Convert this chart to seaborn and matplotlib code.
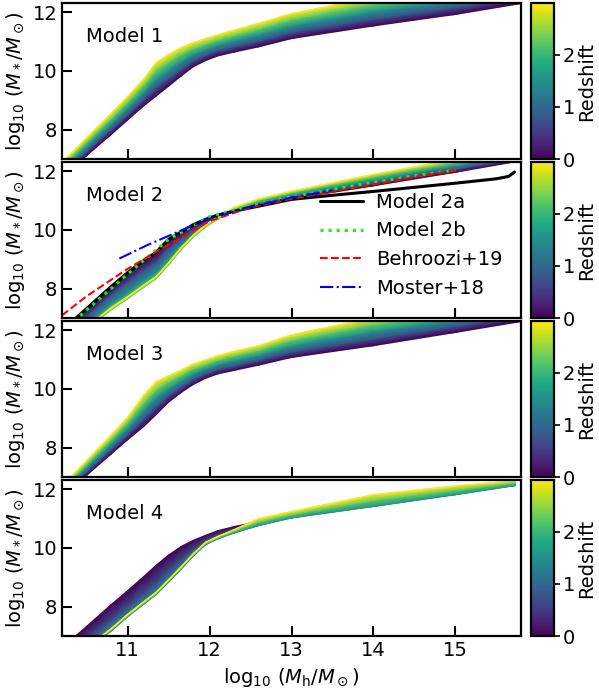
import numpy as np
import matplotlib
matplotlib.use("Agg")
import matplotlib.pyplot as plt
import seaborn as sns

# ==========================================
# Data
# ==========================================
# halo mass grid, log10(Mh/Msun)
log_mh = [10.2, 10.5, 10.8, 11.0, 11.2, 11.35, 11.5, 11.65, 11.8, 11.95, 12.1, 12.3, 12.6, 13.0, 14.0, 15.0, 15.8]
log_mh_m4 = [10.2, 10.5, 10.8, 11.0, 11.2, 11.35, 11.5, 11.65, 11.8, 11.95, 12.1, 12.3, 12.6, 13.0, 14.0, 15.0, 15.73]
redshifts = [0.0, 0.75, 1.5, 2.25, 2.98]

# Model 1: log10(M*/Msun) per redshift
model1_z0 = [6.38, 7.12, 7.84, 8.33, 8.82, 9.15, 9.48, 9.82, 10.14, 10.35, 10.51, 10.64, 10.82, 11.10, 11.53, 11.92, 12.29]
model1_z075 = [6.51, 7.27, 8.02, 8.53, 9.05, 9.44, 9.75, 10.06, 10.35, 10.54, 10.69, 10.83, 11.02, 11.31, 11.77, 12.15, 12.50]
model1_z15 = [6.64, 7.43, 8.20, 8.73, 9.28, 9.72, 10.02, 10.31, 10.55, 10.73, 10.87, 11.02, 11.22, 11.53, 12.02, 12.39, 12.72]
model1_z225 = [6.76, 7.58, 8.38, 8.93, 9.51, 10.01, 10.29, 10.55, 10.76, 10.91, 11.05, 11.20, 11.42, 11.74, 12.26, 12.62, 12.94]
model1_z3 = [6.89, 7.73, 8.56, 9.13, 9.74, 10.29, 10.56, 10.79, 10.96, 11.10, 11.23, 11.39, 11.62, 11.95, 12.50, 12.85, 13.15]

# Model 2
model2_z0 = [6.53, 7.28, 8.03, 8.50, 8.92, 9.20, 9.63, 9.88, 10.13, 10.32, 10.48, 10.62, 10.81, 11.05, 11.50, 11.96, 12.35]
model2_z075 = [6.33, 7.05, 7.77, 8.21, 8.62, 8.90, 9.34, 9.68, 10.00, 10.24, 10.44, 10.64, 10.87, 11.12, 11.60, 12.07, 12.45]
model2_z15 = [6.10, 6.79, 7.48, 7.87, 8.28, 8.56, 9.02, 9.46, 9.85, 10.16, 10.40, 10.65, 10.93, 11.19, 11.70, 12.18, 12.55]
model2_z225 = [5.95, 6.62, 7.29, 7.66, 8.06, 8.35, 8.81, 9.32, 9.75, 10.10, 10.37, 10.70, 11.00, 11.26, 11.80, 12.29, 12.65]
model2_z3 = [6.02, 6.69, 7.36, 7.73, 8.13, 8.42, 8.88, 9.39, 9.82, 10.17, 10.44, 10.77, 11.06, 11.32, 11.89, 12.40, 12.75]

# Model 3
model3_z0 = [6.35, 7.06, 7.79, 8.27, 8.73, 9.13, 9.55, 9.87, 10.15, 10.36, 10.51, 10.63, 10.81, 11.07, 11.47, 11.92, 12.29]
model3_z075 = [6.44, 7.19, 7.95, 8.46, 9.00, 9.41, 9.78, 10.06, 10.33, 10.52, 10.67, 10.79, 10.98, 11.26, 11.71, 12.13, 12.48]
model3_z15 = [6.53, 7.32, 8.12, 8.66, 9.27, 9.69, 10.00, 10.26, 10.50, 10.68, 10.82, 10.96, 11.14, 11.46, 11.95, 12.34, 12.67]
model3_z225 = [6.62, 7.44, 8.28, 8.85, 9.53, 9.97, 10.23, 10.45, 10.68, 10.83, 10.98, 11.12, 11.31, 11.65, 12.18, 12.54, 12.86]
model3_z3 = [6.71, 7.57, 8.44, 9.04, 9.80, 10.25, 10.45, 10.64, 10.85, 10.99, 11.13, 11.28, 11.47, 11.84, 12.42, 12.75, 13.05]

# Model 4
model4_z0 = [6.61, 7.34, 8.08, 8.55, 9.04, 9.42, 9.76, 10.05, 10.26, 10.43, 10.59, 10.73, 10.90, 11.14, 11.60, 11.95, 12.20]
model4_z075 = [6.10, 6.82, 7.50, 7.97, 8.43, 8.78, 9.17, 9.55, 9.91, 10.22, 10.41, 10.59, 10.86, 11.10, 11.55, 11.91, 12.17]
model4_z15 = [5.82, 6.54, 7.18, 7.66, 8.10, 8.42, 8.84, 9.27, 9.72, 10.11, 10.31, 10.51, 10.76, 11.02, 11.41, 11.81, 12.12]
model4_z225 = [5.86, 6.58, 7.22, 7.70, 8.14, 8.46, 8.88, 9.31, 9.76, 10.15, 10.35, 10.57, 10.88, 11.13, 11.61, 11.96, 12.21]
model4_z3 = [5.90, 6.62, 7.26, 7.74, 8.18, 8.50, 8.92, 9.35, 9.80, 10.19, 10.39, 10.62, 11.00, 11.24, 11.81, 12.11, 12.29]

# comparison relations in the Model 2 panel
m2a_mh = [10.2, 10.5, 10.8, 11.0, 11.2, 11.35, 11.5, 11.65, 11.8, 11.95, 12.1, 12.3, 12.6, 13.0, 13.5,
          14.0, 14.5, 15.0, 15.5, 15.65, 15.72]
m2a_ms = [6.58, 7.33, 8.08, 8.55, 8.97, 9.25, 9.68, 9.93, 10.18, 10.36, 10.51, 10.64, 10.81, 11.04, 11.18,
          11.31, 11.45, 11.59, 11.74, 11.82, 11.97]
m2b_mh = [10.2, 10.5, 11.0, 11.5, 12.0, 12.5, 13.0, 13.5, 14.0, 14.5, 15.0]
m2b_ms = [6.55, 7.28, 8.50, 9.68, 10.45, 10.83, 11.13, 11.38, 11.62, 11.84, 12.03]
b19_mh = [10.2, 10.5, 11.0, 11.5, 12.0, 12.5, 13.0, 13.5, 14.0, 14.5, 15.05]
b19_ms = [7.10, 7.75, 8.68, 9.50, 10.30, 10.77, 11.06, 11.30, 11.55, 11.80, 12.05]
m18_mh = [10.9, 11.25, 11.5, 11.75, 12.0, 12.5, 13.0, 13.5]
m18_ms = [9.03, 9.50, 9.80, 10.10, 10.38, 10.80, 11.10, 11.35]

panels = [
    ("Model 1", log_mh, [model1_z0, model1_z075, model1_z15, model1_z225, model1_z3]),
    ("Model 2", log_mh, [model2_z0, model2_z075, model2_z15, model2_z225, model2_z3]),
    ("Model 3", log_mh, [model3_z0, model3_z075, model3_z15, model3_z225, model3_z3]),
    ("Model 4", log_mh_m4, [model4_z0, model4_z075, model4_z15, model4_z225, model4_z3]),
]

# ==========================================
# Style
# ==========================================
sns.set_theme(style="white", rc={
    "axes.edgecolor": "black", "axes.linewidth": 1.6,
    "xtick.color": "black", "ytick.color": "black",
    "text.color": "black", "axes.labelcolor": "black",
})
plt.rcParams["font.family"] = ["DejaVu Sans"]
plt.rcParams["mathtext.fontset"] = "dejavusans"
FS = 14

W, H = 599, 695
fig = plt.figure(figsize=(W / 100, H / 100), dpi=100)
bottoms = [535.7, 376.7, 217.7, 58.7]
zmax = redshifts[-1]
cmap = plt.get_cmap("viridis")

for i, (name, xgrid, curves) in enumerate(panels):
    ax = fig.add_axes([62 / W, bottoms[i] / H, 459 / W, 156 / H])
    cax = fig.add_axes([531 / W, bottoms[i] / H, 23 / W, 156 / H])

    # band of curves coloured by redshift
    X = np.tile(np.array(xgrid), (len(redshifts), 1))
    Y = np.array(curves)
    C = np.tile(np.array(redshifts)[:, None], (1, len(xgrid)))
    mesh = ax.pcolormesh(X, Y, C, shading="gouraud", cmap=cmap, vmin=0, vmax=zmax)
    ax.plot(xgrid, curves[-1], color=cmap(1.0), lw=1.0)

    if name == "Model 2":
        sns.lineplot(x=m2a_mh, y=m2a_ms, ax=ax, color="black", lw=2.2, label="Model 2a")
        sns.lineplot(x=m2b_mh, y=m2b_ms, ax=ax, color="lime", lw=2.2, linestyle=":", label="Model 2b")
        sns.lineplot(x=b19_mh, y=b19_ms, ax=ax, color="red", lw=1.5, linestyle="--", label="Behroozi+19")
        sns.lineplot(x=m18_mh, y=m18_ms, ax=ax, color="blue", lw=1.5, linestyle="-.", label="Moster+18")
        ax.legend(loc="upper left", bbox_to_anchor=(0.545, 0.855), frameon=False, fontsize=FS,
                  labelspacing=0.5, handlelength=2.2, handletextpad=0.7, borderaxespad=0)

    ax.set_xlim(10.2, 15.8)
    ax.set_ylim(7.0, 12.3)
    ax.set_xticks([11, 12, 13, 14, 15])
    ax.set_yticks([8, 10, 12])
    ax.tick_params(direction="in", length=7, width=1.5, labelsize=FS,
                   bottom=True, left=True, top=False, right=False,
                   labelbottom=(i == 3))
    ax.set_ylabel(r"$\log_{10}\,(M_*/M_\odot)$", fontsize=FS)
    ax.text(0.053, 0.79, name, transform=ax.transAxes, fontsize=FS, va="center")

    cb = fig.colorbar(mesh, cax=cax)
    cb.set_ticks([0, 1, 2])
    cb.outline.set_linewidth(1.6)
    cax.tick_params(direction="out", length=4, width=1.2, pad=2.5, labelsize=FS, right=True)
    cb.set_label("Redshift", fontsize=FS, labelpad=1)

    if i == 3:
        ax.set_xlabel(r"$\log_{10}\,(M_{\rm h}/M_\odot)$", fontsize=FS)

fig.savefig("out.png", dpi=100)
